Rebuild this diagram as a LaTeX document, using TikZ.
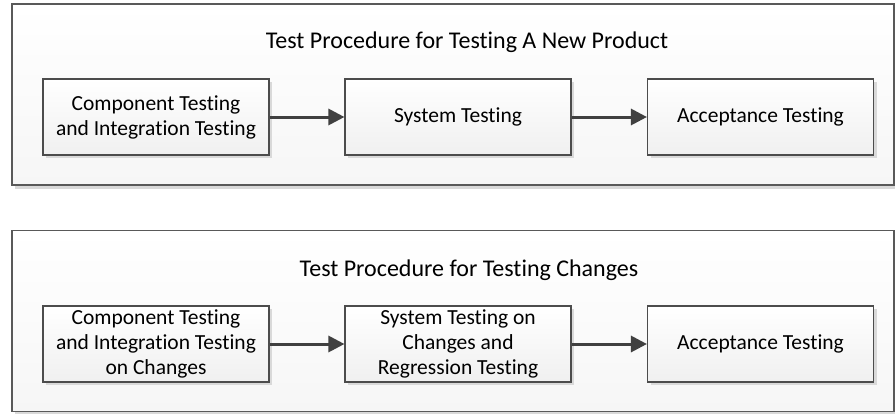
\documentclass[tikz,border=0pt]{standalone}
\usepackage{fontspec}
\setmainfont{Carlito}[Ligatures=NoCommon]
\usetikzlibrary{arrows.meta,shadows}

\begin{document}
\begin{tikzpicture}[x=1pt, y=-1pt,
    frame/.style={draw=gray!70!black, line width=1.1pt, top color=white, bottom color=gray!7,
        drop shadow={shadow xshift=3pt, shadow yshift=-4pt, fill=gray!30, opacity=1},
        minimum width=882pt, minimum height=181pt, inner sep=0pt},
    stage/.style={draw=gray!60!black, line width=1.1pt, top color=white, bottom color=gray!12,
        drop shadow={shadow xshift=3pt, shadow yshift=-3pt, fill=gray!30, opacity=1},
        minimum width=226pt, minimum height=76pt, inner sep=2pt, align=center,
        font=\fontsize{21.5}{25}\selectfont},
    heading/.style={font=\fontsize{24}{28}\selectfont},
    flow/.style={draw=black!75, line width=3pt, -{Triangle[length=16pt, width=16pt]}}]

    \useasboundingbox (0,0) rectangle (895,413);

    \node[frame] (newframe) at (453, 94.5) {};
    \node[frame] (chgframe) at (453, 321) {};

    \node[heading] (newtitle) at (467, 42) {Test Procedure for Testing A New Product};
    \node[heading] (chgtitle) at (469, 270) {Test Procedure for Testing Changes};

    \node[stage] (newcomp) at (156, 117) {Component Testing\\and Integration Testing};
    \node[stage] (newsys) at (458, 117) {System Testing};
    \node[stage] (newacc) at (760.5, 117) {Acceptance Testing};

    \node[stage] (chgcomp) at (156, 344) {Component Testing\\and Integration Testing\\on Changes};
    \node[stage] (chgsys) at (458, 344) {System Testing on\\Changes and\\Regression Testing};
    \node[stage] (chgacc) at (760.5, 344) {Acceptance Testing};

    \draw[flow] (newcomp) -- (newsys);
    \draw[flow] (newsys) -- (newacc);

    \draw[flow] (chgcomp) -- (chgsys);
    \draw[flow] (chgsys) -- (chgacc);

\end{tikzpicture}
\end{document}
